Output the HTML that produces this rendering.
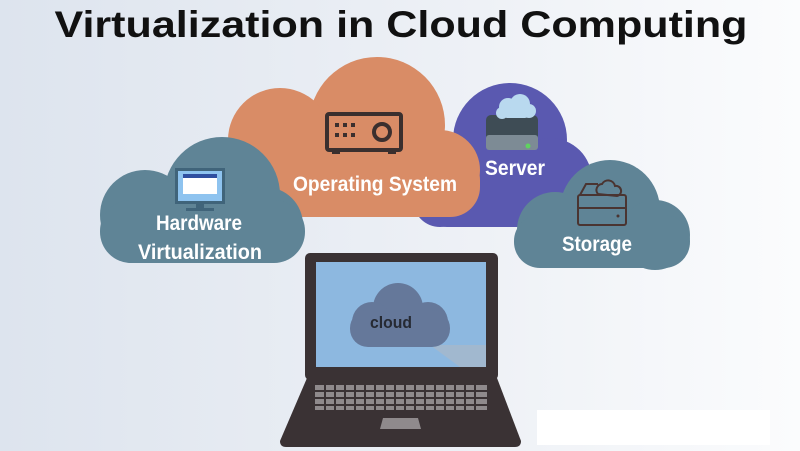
<!DOCTYPE html>
<html><head><meta charset="utf-8"><style>
html,body{margin:0;padding:0;width:800px;height:451px;overflow:hidden}
svg{display:block}
text{font-family:"Liberation Sans",sans-serif}
</style></head><body>
<svg width="800" height="451" viewBox="0 0 800 451" xmlns="http://www.w3.org/2000/svg">
<defs>
<linearGradient id="bg" x1="0" y1="0" x2="1" y2="0">
<stop offset="0" stop-color="#dde4ee"/><stop offset="0.6" stop-color="#eef1f6"/><stop offset="1" stop-color="#fbfcfd"/>
</linearGradient>
</defs>
<rect width="800" height="451" fill="url(#bg)"/>
<text x="401" y="37" text-anchor="middle" font-family="DejaVu Sans Condensed, DejaVu Sans" font-weight="bold" font-size="37" textLength="693" lengthAdjust="spacingAndGlyphs" fill="#111">Virtualization in Cloud Computing</text>

<!-- purple cloud -->
<g fill="#5a59b0">
<circle cx="510" cy="140" r="57"/>
<circle cx="550" cy="180" r="42"/>
<circle cx="440" cy="200" r="27"/>
<rect x="420" y="170" width="170" height="57" rx="27"/>
</g>
<!-- orange cloud -->
<g fill="#d98c66">
<circle cx="377" cy="125" r="68"/>
<circle cx="280" cy="140" r="52"/>
<circle cx="440" cy="170" r="40"/>
<rect x="234" y="150" width="246" height="67" rx="30"/>
</g>
<!-- left cloud -->
<g fill="#5f8496">
<circle cx="222" cy="195" r="58"/>
<circle cx="145" cy="215" r="45"/>
<circle cx="265" cy="225" r="38"/>
<rect x="100" y="200" width="205" height="63" rx="31"/>
</g>
<!-- storage cloud -->
<g fill="#5f8496">
<circle cx="610" cy="210" r="50"/>
<circle cx="555" cy="230" r="38"/>
<circle cx="655" cy="235" r="35"/>
<rect x="514" y="215" width="176" height="53" rx="26"/>
</g>

<!-- projector icon -->
<g fill="none" stroke="#3a2f2e" stroke-width="4">
<rect x="327" y="114" width="74" height="36" rx="2"/>
<circle cx="382" cy="132" r="8"/>
</g>
<g fill="#3a2f2e">
<rect x="335" y="123" width="4" height="4"/><rect x="343" y="123" width="4" height="4"/><rect x="351" y="123" width="4" height="4"/>
<rect x="335" y="133" width="4" height="4"/><rect x="343" y="133" width="4" height="4"/><rect x="351" y="133" width="4" height="4"/>
<rect x="332" y="150" width="8" height="4"/><rect x="388" y="150" width="8" height="4"/>
</g>
<!-- server icon -->
<rect x="486" y="115" width="52" height="35" rx="5" fill="#3e4c55"/>
<rect x="486" y="135" width="52" height="15" rx="3" fill="#7d8b95"/>
<circle cx="528" cy="146" r="2.5" fill="#5fd35f"/>
<g fill="#b9d9ef"><circle cx="508" cy="107" r="9"/><circle cx="520" cy="104" r="10"/><circle cx="529" cy="111" r="7"/><circle cx="502" cy="113" r="6"/><rect x="502" y="108" width="28" height="10" rx="5"/></g>
<!-- monitor icon -->
<rect x="175" y="168" width="50" height="36" fill="#40647a"/>
<rect x="178" y="171" width="44" height="30" fill="#8ec3ef"/>
<rect x="183" y="174" width="34" height="20" fill="#fff"/>
<rect x="183" y="174" width="34" height="4" fill="#2f4fa0"/>
<rect x="196" y="204" width="8" height="5" fill="#40647a"/>
<rect x="186" y="208" width="28" height="3" fill="#40647a"/>
<!-- storage icon -->
<g fill="none" stroke="#4a3431" stroke-width="2">
<path d="M580 195 L586 184 L598 184"/>
<rect x="578" y="195" width="48" height="30" rx="2"/>
<line x1="578" y1="208" x2="626" y2="208"/>
<path d="M598 194 a6 6 0 0 1 4 -10 a7 7 0 0 1 13 2 a5 5 0 0 1 2 10 z"/>
</g>
<circle cx="618" cy="216" r="1.5" fill="#4a3431"/>

<g fill="#fff" font-weight="bold" font-size="21" text-anchor="middle">
<text x="375" y="191" textLength="164" lengthAdjust="spacingAndGlyphs">Operating System</text>
<text x="515" y="175" textLength="60" lengthAdjust="spacingAndGlyphs">Server</text>
<text x="199" y="230" textLength="86" lengthAdjust="spacingAndGlyphs">Hardware</text>
<text x="200" y="259" textLength="124" lengthAdjust="spacingAndGlyphs">Virtualization</text>
<text x="597" y="251" textLength="70" lengthAdjust="spacingAndGlyphs">Storage</text>
</g>

<!-- laptop -->
<rect x="305" y="253" width="193" height="127" rx="5" fill="#3a3234"/>
<rect x="316" y="262" width="170" height="105" fill="#8db8e0"/>
<path d="M430 345 L486 345 L486 367 L460 367 Z" fill="#a9b8c8" opacity="0.7"/>
<g fill="#65789a">
<circle cx="398" cy="308" r="25"/><circle cx="372" cy="322" r="20"/><circle cx="428" cy="322" r="20"/>
<rect x="350" y="310" width="100" height="37" rx="18"/>
</g>
<text x="391" y="328" text-anchor="middle" font-weight="bold" font-size="17" textLength="42" lengthAdjust="spacingAndGlyphs" fill="#262a33">cloud</text>
<path d="M307 378 L497 378 L521 441 Q521 447 515 447 L286 447 Q280 447 280 441 Z" fill="#3a3234"/>
<g fill="#8f8a8c">
<rect x="315" y="385" width="172" height="5"/>
<rect x="315" y="392" width="172" height="5"/>
<rect x="315" y="399" width="172" height="5"/>
<rect x="315" y="406" width="172" height="4"/>
<path d="M383 418 L418 418 L421 429 L380 429 Z"/>
</g>
<g stroke="#3a3234" stroke-width="2">
<line x1="325" y1="384" x2="325" y2="411"/><line x1="335" y1="384" x2="335" y2="411"/><line x1="345" y1="384" x2="345" y2="411"/><line x1="355" y1="384" x2="355" y2="411"/><line x1="365" y1="384" x2="365" y2="411"/><line x1="375" y1="384" x2="375" y2="411"/><line x1="385" y1="384" x2="385" y2="411"/><line x1="395" y1="384" x2="395" y2="411"/><line x1="405" y1="384" x2="405" y2="411"/><line x1="415" y1="384" x2="415" y2="411"/><line x1="425" y1="384" x2="425" y2="411"/><line x1="435" y1="384" x2="435" y2="411"/><line x1="445" y1="384" x2="445" y2="411"/><line x1="455" y1="384" x2="455" y2="411"/><line x1="465" y1="384" x2="465" y2="411"/><line x1="475" y1="384" x2="475" y2="411"/>
</g>
<rect x="537" y="410" width="233" height="35" fill="#fff"/>
</svg>
</body></html>
